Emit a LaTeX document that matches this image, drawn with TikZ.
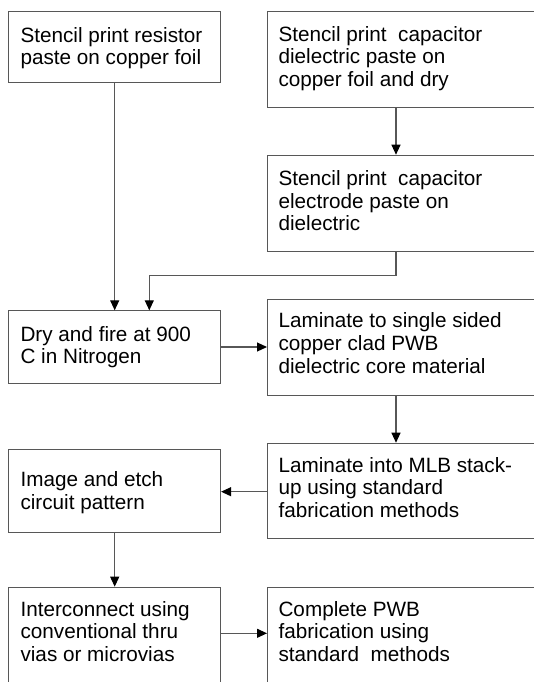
\documentclass[tikz,border=0pt]{standalone}
\usepackage{fontspec}
\setmainfont{Liberation Sans}
\usetikzlibrary{arrows.meta}
\newcommand{\bxt}[4]{\parbox[c][#1pt][t]{#2pt}{\raggedright\fontsize{20.7}{22.7}\selectfont\rule{0pt}{#3pt}#4}}
\tikzset{
  box/.style={draw=black!66, line width=1.1pt, rectangle, inner xsep=11.7pt, inner ysep=0pt, anchor=north west, text=black},
  rbox/.style={box, inner xsep=11pt},
  arr/.style={draw=black!66, line width=1.1pt, -{Triangle[length=10pt,width=9pt,black]}},
  ln/.style={draw=black!66, line width=1.1pt}
}
\begin{document}
\begin{tikzpicture}[x=1pt,y=-1pt]
\useasboundingbox (0,0) rectangle (534,682);
% columns
\coordinate (rx) at (396,0);
\coordinate (lx) at (114.7,0);
\coordinate (lx2) at (149.3,0);
\coordinate (y45) at (0,347);
\coordinate (y67) at (0,491.7);
\coordinate (y89) at (0,633.3);
% boxes
\node[box] (b1) at (8.3,10.7) {\bxt{71}{188.3}{31}{Stencil print resistor\\paste on copper foil}};
\node[rbox] (b2) at (267,10.7) {\bxt{96}{258}{30}{Stencil print~ capacitor\\dielectric paste on\\copper foil and dry}};
\node[rbox] (b3) at (267,154.7) {\bxt{96}{258}{30.3}{Stencil print~ capacitor\\electrode paste on\\dielectric}};
\node[box] (b4) at (8.3,310.3) {\bxt{72.4}{188.3}{30.4}{Dry and fire at 900\\C in Nitrogen}};
\node[rbox] (b5) at (267,298.7) {\bxt{96}{258}{28.6}{Laminate to single sided\\copper clad PWB\\dielectric core material}};
\node[rbox] (b6) at (267,442.7) {\bxt{95.6}{258}{29}{Laminate into MLB stack-\\up using standard\\fabrication methods}};
\node[box] (b7) at (8.3,448.7) {\bxt{83.3}{188.3}{37.3}{Image and etch\\circuit pattern}};
\node[box] (b8) at (8.3,586.7) {\bxt{110}{188.3}{29}{Interconnect using\\conventional thru\\vias or microvias}};
\node[rbox] (b9) at (267,586.7) {\bxt{110}{258}{29}{Complete PWB\\fabrication using\\standard~ methods}};
% connectors
\draw[arr] (b1.south -| lx) -- (b4.north -| lx);
\draw[arr] (b2.south -| rx) -- (b3.north -| rx);
\draw[arr] (b3.south -| rx) -- ++(0,23.6) -| (b4.north -| lx2);
\draw[arr] (b4.east |- y45) -- (b5.west |- y45);
\draw[arr] (b5.south -| rx) -- (b6.north -| rx);
\draw[arr] (b6.west |- y67) -- (b7.east |- y67);
\draw[arr] (b7.south -| lx) -- (b8.north -| lx);
\draw[arr] (b8.east |- y89) -- (b9.west |- y89);
\end{tikzpicture}
\end{document}
